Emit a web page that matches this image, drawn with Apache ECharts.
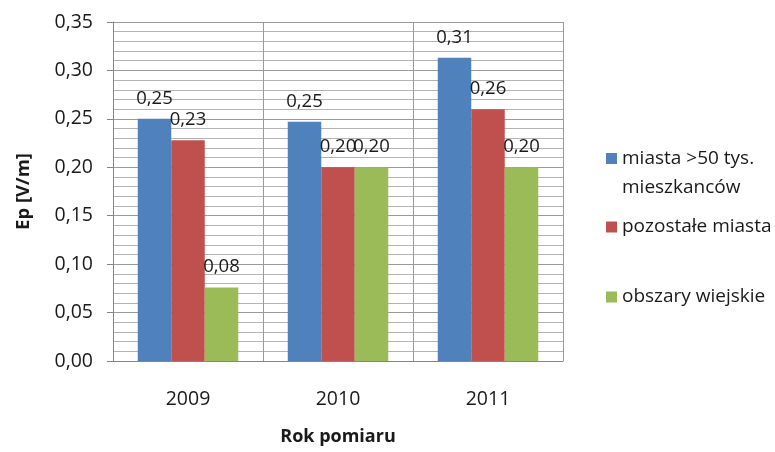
<!DOCTYPE html>
<html>
<head>
<meta charset="utf-8">
<script src="https://cdn.jsdelivr.net/npm/echarts@6/dist/echarts.min.js"></script>
<style>
  html, body { margin: 0; padding: 0; background: #fff; }
  #chart { width: 775px; height: 452px; }
</style>
</head>
<body>
<div id="chart"></div>
<script>
// Measurement years
const years = ['2009', '2010', '2011'];

// Mean field strength Ep [V/m] per area type
const bigCities = [0.250, 0.247, 0.313];
const otherCities = [0.228, 0.200, 0.260];
const ruralAreas = [0.076, 0.200, 0.200];

// Series names (legend text)
const seriesNames = ['miasta >50 tys.\nmieszkanców', 'pozostałe miasta', 'obszary wiejskie'];
const seriesColors = ['#4F81BD', '#C0504D', '#9BBB59'];

const FONT = 'Open Sans';
const fmt = v => v.toFixed(2).replace('.', ',');

const chart = echarts.init(document.getElementById('chart'), null, { renderer: 'canvas' });

function barSeries(name, data, color) {
  return {
    name: name,
    type: 'bar',
    data: data,
    barGap: '0%',
    barCategoryGap: '33%',
    itemStyle: { color: color },
    label: {
      show: true,
      position: 'top',
      distance: 11,
      fontFamily: FONT,
      fontSize: 18.5,
      color: '#1a1a1a',
      formatter: p => fmt(p.value)
    },
    emphasis: { disabled: true }
  };
}

function legendFor(name, top, lineHeight) {
  return {
    data: [name],
    orient: 'vertical',
    left: 601,
    top: top,
    icon: 'rect',
    itemWidth: 11,
    itemHeight: 11,
    selectedMode: false,
    textStyle: { fontFamily: FONT, fontSize: 19, color: '#1a1a1a', lineHeight: lineHeight },
    formatter: n => (n === seriesNames[0] ? ' \n' + n : n)
  };
}

chart.setOption({
  animation: false,
  backgroundColor: '#fff',
  grid: { left: 113, right: 212, top: 22, bottom: 91, outerBoundsMode: 'none', containLabel: false },
  legend: [
    legendFor(seriesNames[0], 110, 29),
    legendFor(seriesNames[1], 211, 22),
    legendFor(seriesNames[2], 281, 22)
  ],
  xAxis: {
    type: 'category',
    data: years,
    boundaryGap: true,
    name: 'Rok pomiaru',
    nameLocation: 'middle',
    nameGap: 67,
    nameTextStyle: { fontFamily: FONT, fontSize: 18, fontWeight: 'bold', color: '#1a1a1a' },
    axisLine: { show: true, lineStyle: { color: '#868686', width: 1 } },
    axisTick: { show: false },
    axisLabel: { fontFamily: FONT, fontSize: 19.5, color: '#1a1a1a', margin: 28 },
    splitLine: { show: true, lineStyle: { color: '#9a9a9a', width: 1 } }
  },
  yAxis: {
    type: 'value',
    min: 0,
    max: 0.35,
    interval: 0.05,
    name: 'Ep [V/m]',
    nameLocation: 'middle',
    nameGap: 80,
    nameRotate: 90,
    nameTextStyle: { fontFamily: FONT, fontSize: 18.5, fontWeight: 'bold', color: '#1a1a1a' },
    axisLine: { show: true, lineStyle: { color: '#868686', width: 1 } },
    axisTick: { show: true, length: 6, lineStyle: { color: '#868686' } },
    axisLabel: { fontFamily: FONT, fontSize: 19.5, color: '#1a1a1a', margin: 20, formatter: v => fmt(v) },
    splitLine: { show: true, lineStyle: { color: '#9a9a9a', width: 1 } },
    minorTick: { show: false, splitNumber: 5 },
    minorSplitLine: { show: true, lineStyle: { color: '#b4b4b4', width: 1 } }
  },
  series: [
    barSeries(seriesNames[0], bigCities, seriesColors[0]),
    barSeries(seriesNames[1], otherCities, seriesColors[1]),
    barSeries(seriesNames[2], ruralAreas, seriesColors[2])
  ]
});
</script>
</body>
</html>
